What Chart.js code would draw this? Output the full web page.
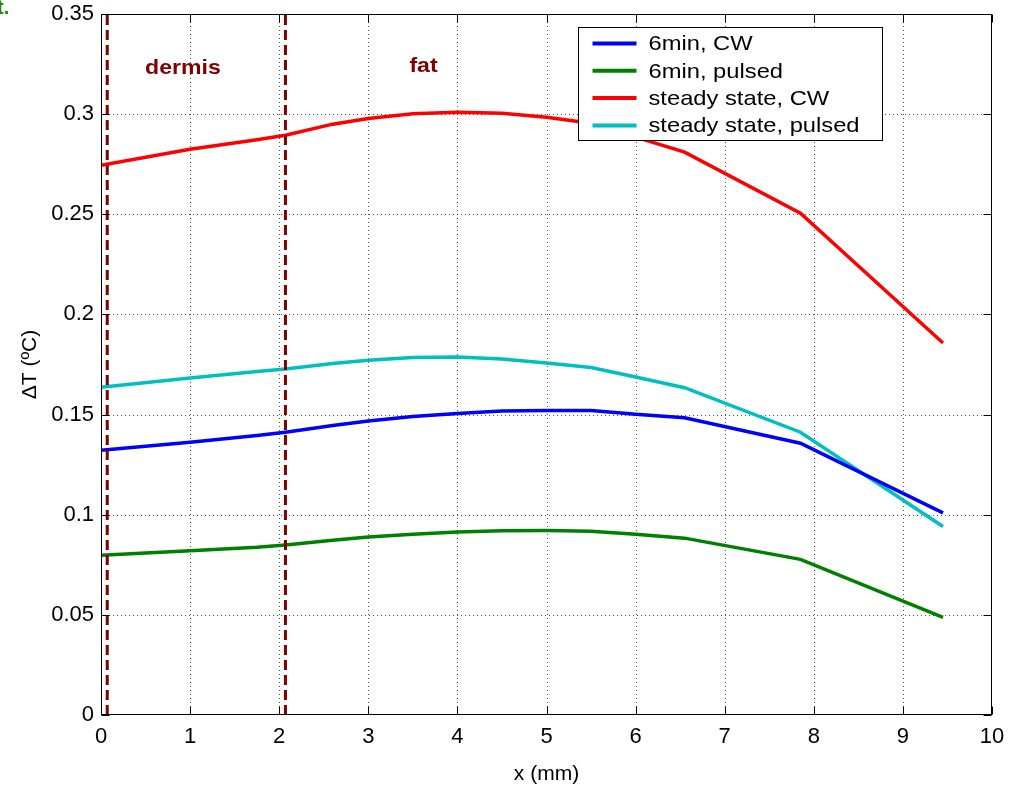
<!DOCTYPE html>
<html>
<head>
<meta charset="utf-8">
<script src="https://cdn.jsdelivr.net/npm/chart.js@4.4.1/dist/chart.umd.min.js"></script>
<style>
  body { margin: 0; background: #fff; }
  #wrap { position: relative; width: 1018px; height: 788px; overflow: hidden; }
  #corner { position: absolute; left: -3px; top: -4px; font: bold 20px "Liberation Sans", Arial, sans-serif; color: #1a8a1a; }
</style>
</head>
<body>
<div id="wrap">
  <canvas id="tempChart" width="1018" height="788"></canvas>
  <span id="corner">t.</span>
</div>
<script>
// depth (mm) and temperature rise (°C)
const xs = [0, 1, 1.75, 2.07, 2.6, 3, 3.5, 4, 4.5, 5, 5.5, 6, 6.55, 7.85, 9.45];
const cw6min = [0.1322, 0.1362, 0.1395, 0.1412, 0.1445, 0.1468, 0.1490, 0.1505, 0.1518, 0.1520, 0.1520, 0.1502, 0.1484, 0.1357, 0.1009];
const pulsed6min = [0.0798, 0.0820, 0.0838, 0.0849, 0.0872, 0.0889, 0.0903, 0.0914, 0.0920, 0.0921, 0.0918, 0.0902, 0.0883, 0.0777, 0.0487];
const cwSteady = [0.2745, 0.2825, 0.2872, 0.2895, 0.2950, 0.2978, 0.3002, 0.3010, 0.3005, 0.2985, 0.2955, 0.2885, 0.2810, 0.2505, 0.1857];
const pulsedSteady = [0.1636, 0.1683, 0.1715, 0.1728, 0.1755, 0.1771, 0.1785, 0.1788, 0.1778, 0.1758, 0.1735, 0.1688, 0.1634, 0.1412, 0.0941];

const seriesNames = ['6min, CW', '6min, pulsed', 'steady state, CW', 'steady state, pulsed'];
const seriesValues = [cw6min, pulsed6min, cwSteady, pulsedSteady];
const seriesColors = ['#0000ff', '#008000', '#ff0000', '#00bfbf'];

// tissue layer boundaries and names
const layerBounds = [0.07, 2.07];
const layerNames = ['dermis', 'fat'];

const FONT = '"Liberation Sans", Arial, sans-serif';

// the original text is a little wider than Arial, stretch it sideways
function wideText(ctx, text, x, y, sx) {
  ctx.save();
  ctx.translate(x, y);
  ctx.scale(sx, 1);
  ctx.fillText(text, 0, 0);
  ctx.restore();
}

const matlabFrame = {
  id: 'matlabFrame',
  beforeDatasetsDraw(chart) {
    const { ctx, chartArea: ca, scales: { x, y } } = chart;
    ctx.save();
    ctx.strokeStyle = '#555';
    ctx.lineWidth = 1;
    ctx.setLineDash([1, 3]);
    x.ticks.forEach(t => {
      const px = Math.round(x.getPixelForValue(t.value)) + 0.5;
      if (px <= ca.left + 1 || px >= ca.right - 1) return;
      ctx.beginPath(); ctx.moveTo(px, ca.top); ctx.lineTo(px, ca.bottom); ctx.stroke();
    });
    y.ticks.forEach(t => {
      const py = Math.round(y.getPixelForValue(t.value)) + 0.5;
      if (py <= ca.top + 1 || py >= ca.bottom - 1) return;
      ctx.beginPath(); ctx.moveTo(ca.left, py); ctx.lineTo(ca.right, py); ctx.stroke();
    });
    ctx.restore();
  },
  afterDatasetsDraw(chart) {
    const { ctx, chartArea: ca, scales: { x, y } } = chart;
    ctx.save();

    // layer boundaries
    ctx.strokeStyle = '#800000';
    ctx.lineWidth = 3;
    ctx.setLineDash([10, 5]);
    layerBounds.forEach(b => {
      const px = x.getPixelForValue(b);
      ctx.beginPath(); ctx.moveTo(px, ca.bottom); ctx.lineTo(px, ca.top); ctx.stroke();
    });
    ctx.setLineDash([]);

    ctx.fillStyle = '#800000';
    ctx.font = 'bold 21px ' + FONT;
    ctx.textAlign = 'center';
    ctx.textBaseline = 'middle';
    const labelAt = [[0.92, 0.323], [3.62, 0.324]];
    layerNames.forEach((n, i) => {
      wideText(ctx, n, x.getPixelForValue(labelAt[i][0]), y.getPixelForValue(labelAt[i][1]), 1.1);
    });

    // axes box and inward ticks
    ctx.strokeStyle = '#000';
    ctx.lineWidth = 1;
    const L = Math.round(ca.left) + 0.5, R = Math.round(ca.right) - 0.5;
    const T = Math.round(ca.top) + 0.5, B = Math.round(ca.bottom) - 0.5;
    ctx.strokeRect(L, T, R - L, B - T);
    const tl = 8;
    ctx.beginPath();
    x.ticks.forEach(t => {
      const px = Math.round(x.getPixelForValue(t.value)) + 0.5;
      ctx.moveTo(px, B); ctx.lineTo(px, B - tl);
      ctx.moveTo(px, T); ctx.lineTo(px, T + tl);
    });
    y.ticks.forEach(t => {
      const py = Math.round(y.getPixelForValue(t.value)) + 0.5;
      ctx.moveTo(L, py); ctx.lineTo(L + tl, py);
      ctx.moveTo(R, py); ctx.lineTo(R - tl, py);
    });
    ctx.stroke();

    // legend box
    const bx = Math.round(ca.right) - 414 + 0.5, by = Math.round(ca.top) + 13 + 0.5;
    const bw = 304, bh = 113;
    ctx.fillStyle = '#fff';
    ctx.fillRect(bx, by, bw, bh);
    ctx.strokeStyle = '#000';
    ctx.strokeRect(bx, by, bw, bh);
    ctx.font = '21px ' + FONT;
    ctx.textAlign = 'left';
    ctx.textBaseline = 'middle';
    seriesNames.forEach((n, i) => {
      const ry = by + 16 + i * 27.3;
      ctx.strokeStyle = seriesColors[i];
      ctx.lineWidth = 4;
      ctx.beginPath(); ctx.moveTo(bx + 14, ry); ctx.lineTo(bx + 58, ry); ctx.stroke();
      ctx.fillStyle = '#000';
      wideText(ctx, n, bx + 70, ry + 1, 1.13);
    });
    ctx.restore();
  }
};

new Chart(document.getElementById('tempChart'), {
  type: 'line',
  data: {
    datasets: seriesNames.map((n, i) => ({
      label: n,
      data: xs.map((v, k) => ({ x: v, y: seriesValues[i][k] })),
      borderColor: seriesColors[i],
      borderWidth: 3.5,
      pointRadius: 0,
      tension: 0,
      fill: false
    }))
  },
  options: {
    responsive: false,
    animation: false,
    layout: { padding: { left: 0, top: 14, right: 26, bottom: 0 } },
    plugins: { legend: { display: false }, tooltip: { enabled: false } },
    scales: {
      x: {
        type: 'linear',
        min: 0, max: 10,
        ticks: { stepSize: 1, color: '#000', font: { family: FONT, size: 22 }, padding: 9, maxRotation: 0 },
        grid: { display: false, drawTicks: false },
        border: { display: false },
        title: { display: true, text: 'x (mm)', color: '#000', font: { family: FONT, size: 21 }, padding: { top: 0, bottom: 1 } },
        afterFit(scale) { scale.height = 73; scale.paddingLeft = 0; scale.paddingRight = 0; }
      },
      y: {
        min: 0, max: 0.35,
        ticks: {
          stepSize: 0.05, color: '#000', font: { family: FONT, size: 22 }, padding: 7,
          callback: v => String(+v.toFixed(2))
        },
        grid: { display: false, drawTicks: false },
        border: { display: false },
        title: { display: true, text: 'ΔT (ºC)', color: '#000', font: { family: FONT, size: 21 }, padding: { top: 18, bottom: 0 } },
        afterFit(scale) { scale.width = 101; scale.paddingTop = 0; scale.paddingBottom = 0; }
      }
    }
  },
  plugins: [matlabFrame]
});
</script>
</body>
</html>
